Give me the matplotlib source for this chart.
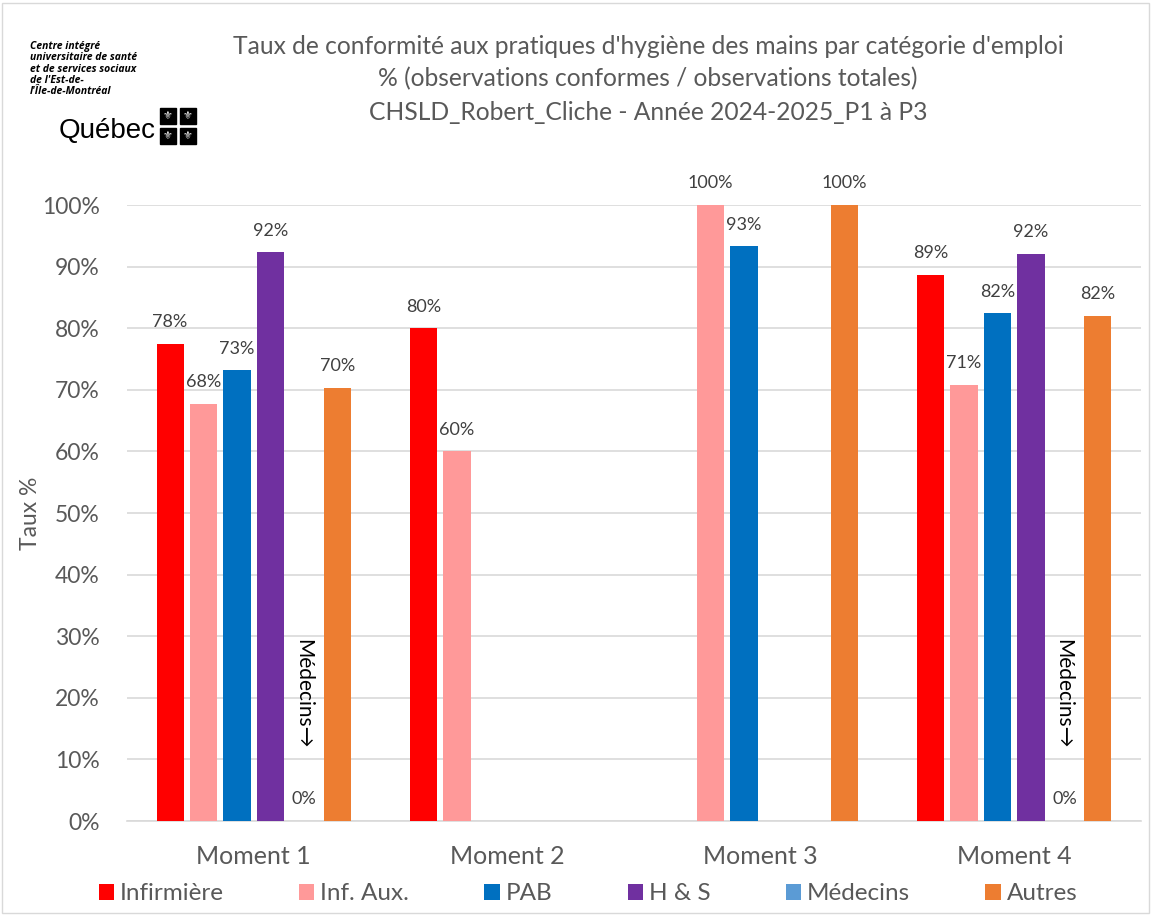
import matplotlib
matplotlib.use("Agg")
import matplotlib.pyplot as plt
from matplotlib.patches import Rectangle
import numpy as np

categories = ["Moment 1", "Moment 2", "Moment 3", "Moment 4"]
series_names = ["Infirmière", "Inf. Aux.", "PAB", "H & S", "Médecins", "Autres"]
infirmiere = [77.5, 80.0, np.nan, 88.7]
inf_aux = [67.7, 60.0, 100.0, 70.8]
pab = [73.2, np.nan, 93.3, 82.4]
h_s = [92.3, np.nan, np.nan, 92.1]
medecins = [0.0, np.nan, np.nan, 0.0]
autres = [70.3, np.nan, 100.0, 82.0]
yticks = [0, 10, 20, 30, 40, 50, 60, 70, 80, 90, 100]
colors = ["#FF0000", "#FF9999", "#0070C0", "#7030A0", "#5B9BD5", "#ED7D31"]
title_lines = ["Taux de conformité aux pratiques d'hygiène des mains par catégorie d'emploi",
               "% (observations conformes / observations totales)",
               "CHSLD_Robert_Cliche - Année 2024-2025_P1 à P3"]

plt.rcParams['font.family'] = ['Lato', 'DejaVu Sans']
fig = plt.figure(figsize=(11.52, 9.15), dpi=100)
ax = fig.add_axes([127/1152, 94/915, 1014/1152, 616/915])

series = [infirmiere, inf_aux, pab, h_s, medecins, autres]
x = np.arange(len(categories))
pitch = 0.132
width = 0.107
gray = "#595959"
for i, (vals, c, name) in enumerate(zip(series, colors, series_names)):
    off = (i - 2.5) * pitch
    v = np.array(vals, dtype=float)
    ax.bar(x + off, np.nan_to_num(v), width, color=c, label=name, zorder=3)
    for xi, vi in zip(x + off, v):
        if np.isnan(vi):
            continue
        ax.text(xi, vi + 2.2, f"{vi:.0f}%", ha="center", va="bottom",
                fontsize=13, color="#404040", clip_on=False)
    if name == "Médecins":
        for xi, vi in zip(x + off, v):
            if np.isnan(vi):
                continue
            ax.text(xi - 0.005, 29.5, "Médecins→", rotation=-90, ha="center", va="top",
                    fontsize=15, color="#000000", family=['Lato', 'DejaVu Sans'])

ax.set_xlim(-0.5, 3.5)
ax.set_ylim(0, 100)
ax.set_yticks(yticks)
ax.set_yticklabels([f"{t}%" for t in yticks], fontsize=16.5, color=gray)
ax.set_xticks(x)
ax.set_xticklabels(categories, fontsize=18, color=gray)
ax.tick_params(axis="x", length=0, pad=17)
ax.tick_params(axis="y", length=0, pad=19.5)
ax.grid(axis="y", color="#D9D9D9", linewidth=1.2, zorder=0)
for s in ["top", "right", "left"]:
    ax.spines[s].set_visible(False)
ax.spines["bottom"].set_color("#D9D9D9")
ax.spines["bottom"].set_linewidth(1.2)
ax.set_ylabel("Taux %", fontsize=16.5, color=gray)
ax.yaxis.set_label_coords(-(127 - 41) / 1014, 0.5)

fig.text(648/1152, 1 - 47/915, title_lines[0], ha="center", va="center", fontsize=17.7, color=gray)
fig.text(648/1152, 1 - 79/915, title_lines[1], ha="center", va="center", fontsize=17.7, color=gray)
fig.text(648/1152, 1 - 112/915, title_lines[2], ha="center", va="center", fontsize=17.7, color=gray)

leg = fig.legend(loc="center", bbox_to_anchor=(588/1152, 1 - 894/915), ncol=6, frameon=False,
                 fontsize=17.5, handlelength=0.62, handleheight=0.62, columnspacing=3.1,
                 handletextpad=0.25, labelcolor=gray)

# Logo
logo_lines = ["Centre intégré", "universitaire de santé", "et de services sociaux",
              "de l'Est-de-", "l'Île-de-Montréal"]
for k, line in enumerate(logo_lines):
    fig.text(30/1152, 1 - (46 + k * 11.5)/915, line, ha="left", va="center", fontsize=7.5,
             fontweight="bold", style="italic", color="black", family=["Open Sans", "DejaVu Sans"])
fig.text(59/1152, 1 - 131/915, "Québec", ha="left", va="center", fontsize=20,
         color="black", family=["Liberation Sans Narrow", "Liberation Sans", "DejaVu Sans"])
for (cx, cy) in [(168, 116), (188, 116), (168, 136), (188, 136)]:
    fig.patches.append(Rectangle(((cx - 8)/1152, 1 - (cy + 8)/915), 16/1152, 16/915,
                                 transform=fig.transFigure, color="black"))
    fig.text(cx/1152, 1 - cy/915, "⚜", ha="center", va="center", fontsize=8, color="white",
             family=["DejaVu Sans"])

fig.patches.append(Rectangle((0.002, 0.002), 0.995, 0.995, transform=fig.transFigure,
                             fill=False, edgecolor="#D9D9D9", linewidth=1))
fig.savefig("out.png", dpi=100)
